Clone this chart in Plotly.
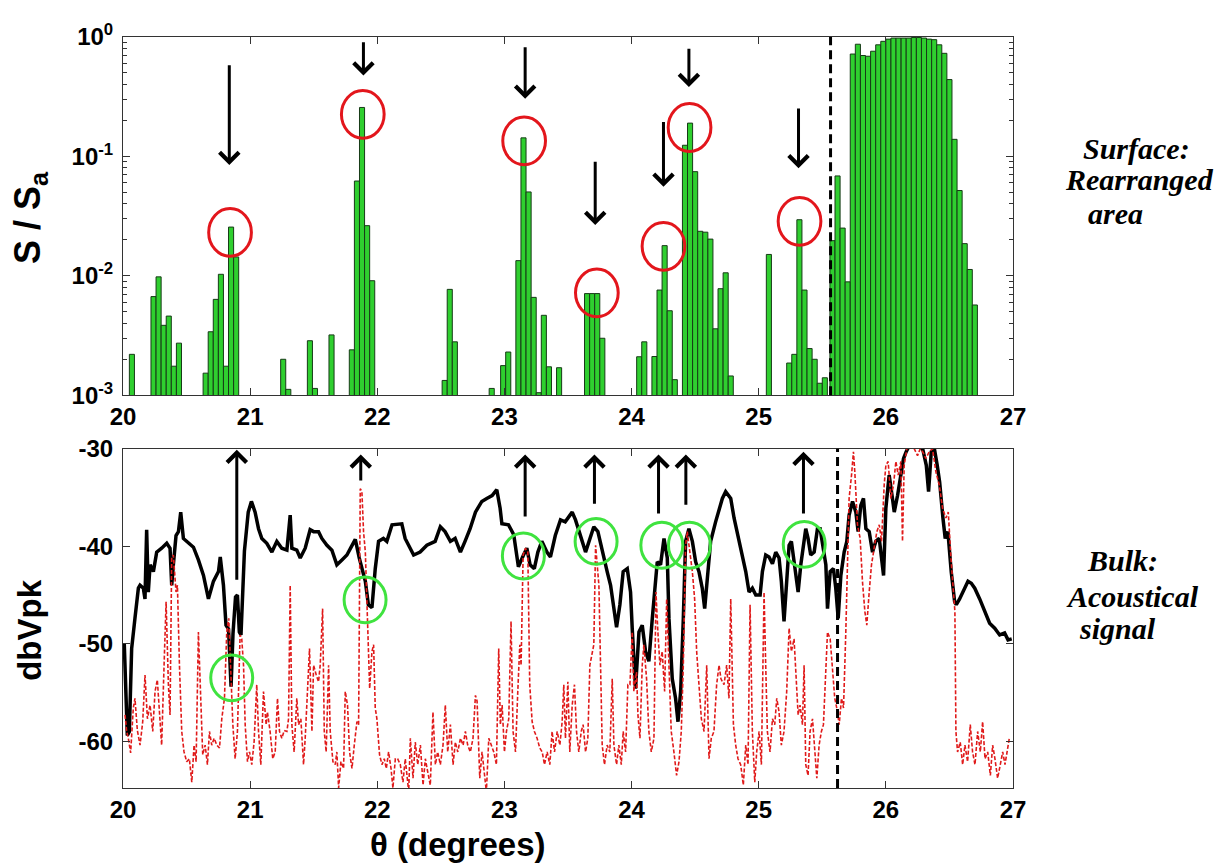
import math
import plotly.graph_objects as go

# ---------------- data: top panel (rearranged surface area, histogram) ----------------
bar_theta = [20.07, 20.24, 20.28, 20.32, 20.36, 20.40, 20.44,
             20.65, 20.69, 20.73, 20.77, 20.81, 20.85, 20.89,
             21.26, 21.30, 21.47, 21.51, 21.64,
             21.80, 21.84, 21.88, 21.92, 21.96,
             22.53, 22.57, 22.61, 22.90, 22.99, 23.03,
             23.11, 23.15, 23.19, 23.23, 23.27, 23.31, 23.35, 23.43,
             23.65, 23.69, 23.73, 23.77,
             24.06, 24.10, 24.18, 24.22, 24.26, 24.30, 24.34,
             24.42, 24.46, 24.50, 24.54, 24.58, 24.62, 24.66, 24.70, 24.74, 24.78,
             25.08, 25.24, 25.28, 25.32, 25.36, 25.40, 25.44, 25.48, 25.52,
             25.58, 25.62, 25.66, 25.70, 25.74, 25.78, 25.82, 25.86, 25.90, 25.94,
             25.98, 26.02, 26.06, 26.10, 26.14, 26.18, 26.22, 26.26, 26.30, 26.34,
             26.38, 26.42, 26.46, 26.50, 26.54, 26.58, 26.62, 26.66, 26.70]
bar_ratio = [0.0022, 0.0067, 0.0098, 0.00385, 0.0046, 0.00175, 0.00273,
             0.00153, 0.0034, 0.00635, 0.0103, 0.00175, 0.0256, 0.0144,
             0.0020, 0.00112, 0.00286, 0.00114, 0.0032,
             0.0024, 0.0622, 0.257, 0.0263, 0.0091,
             0.00133, 0.0077, 0.0028, 0.00114, 0.00177, 0.0023,
             0.0134, 0.143, 0.0504, 0.0066, 0.00105, 0.00467, 0.00173, 0.0017,
             0.0071, 0.0071, 0.0071, 0.0030,
             0.0021, 0.0028, 0.00211, 0.0076, 0.0179, 0.0051, 0.00135,
             0.124, 0.19, 0.0745, 0.0236, 0.0232, 0.0203, 0.0036, 0.0078, 0.0106, 0.00145,
             0.0151, 0.00186, 0.0022, 0.0295, 0.0076, 0.00246, 0.0020, 0.00126, 0.0014,
             0.0197, 0.0686, 0.0251, 0.0089, 0.72, 0.87, 0.70, 0.69, 0.76, 0.86,
             0.92, 0.96, 0.98, 0.98, 0.98, 0.98, 0.99, 0.99, 0.98, 0.96,
             0.95, 0.86, 0.73, 0.44, 0.139, 0.0518, 0.0186, 0.0113, 0.0057]

# ---------------- data: bottom panel (acoustical signal, dBVpk) ----------------
black_theta = [20.010, 20.034, 20.050, 20.068, 20.094, 20.121, 20.134, 20.160, 20.173, 20.186,
               20.199, 20.213, 20.239, 20.265, 20.304, 20.344, 20.370, 20.383, 20.396, 20.417,
               20.436, 20.454, 20.475, 20.514, 20.554, 20.593, 20.633, 20.672, 20.711, 20.751,
               20.765, 20.790, 20.810, 20.830, 20.850, 20.865, 20.885, 20.900, 20.915, 20.928,
               20.955, 20.985, 21.010, 21.039, 21.066, 21.092, 21.131, 21.171, 21.210, 21.249,
               21.289, 21.315, 21.328, 21.367, 21.394, 21.433, 21.472, 21.499, 21.538, 21.564,
               21.604, 21.643, 21.682, 21.722, 21.761, 21.790, 21.827, 21.858, 21.906, 21.930,
               21.958, 21.984, 22.010, 22.048, 22.075, 22.116, 22.193, 22.219, 22.286, 22.337,
               22.390, 22.455, 22.496, 22.533, 22.575, 22.612, 22.654, 22.690, 22.730, 22.772,
               22.822, 22.861, 22.903, 22.940, 22.966, 22.980, 23.032, 23.073, 23.100, 23.110,
               23.150, 23.176, 23.202, 23.235, 23.263, 23.294, 23.334, 23.362, 23.400, 23.441,
               23.478, 23.533, 23.559, 23.585, 23.612, 23.638, 23.664, 23.703, 23.735, 23.769,
               23.808, 23.835, 23.861, 23.882, 23.908, 23.934, 23.966, 23.992, 24.005, 24.031,
               24.058, 24.084, 24.110, 24.136, 24.163, 24.189, 24.202, 24.228, 24.255, 24.281,
               24.294, 24.320, 24.346, 24.365, 24.386, 24.407, 24.425, 24.451, 24.478, 24.504,
               24.530, 24.556, 24.575, 24.596, 24.622, 24.661, 24.688, 24.714, 24.740, 24.766,
               24.780, 24.806, 24.845, 24.871, 24.898, 24.924, 24.950, 24.977, 25.011, 25.029,
               25.055, 25.081, 25.108, 25.134, 25.160, 25.178, 25.199, 25.220, 25.239, 25.257,
               25.273, 25.291, 25.310, 25.331, 25.352, 25.370, 25.388, 25.409, 25.436, 25.462,
               25.483, 25.501, 25.528, 25.541, 25.562, 25.588, 25.606, 25.625, 25.646, 25.672,
               25.693, 25.711, 25.738, 25.764, 25.782, 25.803, 25.824, 25.843, 25.869, 25.895,
               25.921, 25.948, 25.982, 26.000, 26.013, 26.026, 26.052, 26.066, 26.092, 26.118,
               26.139, 26.160, 26.173, 26.199, 26.252, 26.291, 26.318, 26.336, 26.357, 26.383,
               26.404, 26.423, 26.449, 26.467, 26.488, 26.514, 26.541, 26.554, 26.580, 26.606,
               26.646, 26.672, 26.699, 26.738, 26.777, 26.816, 26.856, 26.895, 26.934, 26.961,
               26.990]
black_db = [-50.0, -59.4, -59.0, -50.5, -47.4, -44.3, -44.0, -44.3, -45.4, -38.3,
            -44.7, -41.9, -42.6, -40.6, -40.2, -39.7, -40.2, -44.0, -41.9, -38.9,
            -38.5, -36.5, -39.2, -39.7, -40.1, -41.4, -43.0, -45.4, -43.6, -42.6,
            -41.1, -44.0, -48.1, -48.5, -54.4, -49.0, -45.2, -45.0, -48.8, -49.1,
            -40.5, -36.5, -35.4, -36.5, -38.2, -39.2, -39.7, -40.6, -39.5, -40.2,
            -40.4, -36.8, -40.2, -40.4, -41.2, -40.2, -38.3, -38.5, -38.5, -39.2,
            -39.9, -40.4, -41.9, -41.4, -40.9, -40.2, -39.3, -41.2, -43.6, -46.0,
            -46.3, -42.3, -39.5, -39.2, -39.5, -37.8, -37.7, -39.2, -40.9, -40.6,
            -39.9, -39.5, -38.0, -38.5, -39.5, -39.2, -40.6, -39.5, -38.2, -36.5,
            -35.4, -35.1, -34.8, -34.2, -36.1, -37.7, -37.8, -38.8, -40.9, -42.1,
            -40.9, -40.2, -41.9, -42.3, -40.6, -39.5, -40.6, -41.1, -38.9, -37.3,
            -37.5, -36.5, -37.3, -38.5, -39.5, -40.6, -39.5, -38.0, -38.5, -40.6,
            -42.6, -44.0, -46.7, -48.3, -46.0, -42.6, -42.3, -44.7, -48.4, -54.6,
            -48.8, -48.1, -50.8, -51.8, -47.4, -44.0, -41.6, -41.9, -39.2, -41.2,
            -47.4, -53.6, -55.6, -58.0, -54.9, -47.4, -39.5, -38.2, -39.5, -41.6,
            -42.6, -44.3, -46.4, -43.3, -39.5, -37.5, -36.3, -35.1, -34.4, -34.9,
            -35.1, -37.1, -39.5, -40.9, -42.6, -44.7, -44.3, -45.0, -45.0, -42.6,
            -40.9, -41.1, -41.8, -40.6, -41.2, -43.6, -47.7, -43.6, -39.9, -39.5,
            -41.2, -43.3, -44.7, -41.9, -39.5, -38.2, -39.2, -40.9, -40.6, -38.2,
            -38.2, -39.9, -41.9, -46.4, -42.6, -42.3, -44.3, -47.4, -43.0, -40.6,
            -39.5, -36.8, -35.4, -36.5, -38.5, -35.8, -35.1, -38.2, -38.5, -40.6,
            -39.5, -39.2, -43.0, -36.1, -34.1, -32.7, -35.1, -36.5, -34.8, -32.7,
            -31.0, -30.3, -30.0, -29.3, -29.6, -30.1, -31.7, -34.4, -30.3, -30.1,
            -31.7, -33.4, -37.1, -39.2, -38.5, -42.6, -45.7, -46.0, -45.4, -44.7,
            -43.6, -43.8, -44.3, -45.4, -46.7, -47.9, -48.4, -49.1, -48.9, -49.6,
            -49.5]

red_theta = [20.016, 20.029, 20.042, 20.060, 20.081, 20.094, 20.113, 20.134, 20.155, 20.173,
             20.192, 20.213, 20.234, 20.252, 20.270, 20.291, 20.304, 20.323, 20.339, 20.357,
             20.370, 20.383, 20.396, 20.417, 20.428, 20.444, 20.462, 20.480, 20.501, 20.522,
             20.541, 20.559, 20.575, 20.593, 20.612, 20.627, 20.646, 20.664, 20.680, 20.698,
             20.717, 20.738, 20.759, 20.777, 20.798, 20.816, 20.832, 20.848, 20.864, 20.882,
             20.900, 20.921, 20.934, 20.948, 20.961, 20.979, 20.995, 21.013, 21.031, 21.052,
             21.066, 21.084, 21.105, 21.126, 21.136, 21.157, 21.178, 21.197, 21.215, 21.231,
             21.249, 21.268, 21.289, 21.302, 21.315, 21.328, 21.346, 21.367, 21.381, 21.399,
             21.420, 21.433, 21.451, 21.467, 21.486, 21.499, 21.520, 21.538, 21.551, 21.570,
             21.583, 21.598, 21.617, 21.630, 21.651, 21.669, 21.682, 21.696, 21.714, 21.735,
             21.748, 21.766, 21.782, 21.801, 21.819, 21.840, 21.853, 21.866, 21.879, 21.892,
             21.906, 21.924, 21.940, 21.958, 21.971, 21.984, 21.997, 22.018, 22.037, 22.055,
             22.071, 22.089, 22.108, 22.123, 22.142, 22.160, 22.181, 22.202, 22.220, 22.247,
             22.260,
             22.281, 22.299, 22.318, 22.339, 22.360, 22.378, 22.396, 22.417, 22.438, 22.457,
             22.475, 22.496, 22.517, 22.535, 22.554, 22.575, 22.596, 22.614, 22.633, 22.654,
             22.675, 22.693, 22.711, 22.732, 22.753, 22.772, 22.785, 22.806, 22.824, 22.843,
             22.858, 22.877, 22.895, 22.916, 22.937, 22.955, 22.968, 22.982, 23.000, 23.016,
             23.034, 23.052, 23.068, 23.087, 23.105, 23.121, 23.131, 23.147, 23.165, 23.184,
             23.199, 23.218, 23.236, 23.257, 23.278, 23.297, 23.315, 23.336, 23.357, 23.375,
             23.394, 23.415, 23.436, 23.454, 23.467, 23.480, 23.499, 23.514, 23.533, 23.551,
             23.567, 23.585, 23.604, 23.619, 23.638, 23.656, 23.672, 23.690, 23.703, 23.717,
             23.730, 23.743, 23.756, 23.769, 23.787, 23.808, 23.829, 23.848, 23.861, 23.882,
             23.900, 23.919, 23.934, 23.953, 23.971, 23.987, 24.005, 24.018, 24.039, 24.050,
             24.066, 24.084, 24.097, 24.118, 24.136, 24.155, 24.176, 24.192, 24.207, 24.223,
             24.241, 24.260, 24.276, 24.294, 24.312, 24.333, 24.354, 24.373, 24.391, 24.407,
             24.425, 24.438, 24.459, 24.478, 24.496, 24.512, 24.530, 24.549, 24.570, 24.591,
             24.609, 24.627, 24.648, 24.669, 24.688, 24.703, 24.727, 24.748, 24.766,
             24.780, 24.801, 24.819, 24.837, 24.858, 24.879, 24.898, 24.916, 24.932, 24.950,
             24.969, 24.984, 25.003, 25.021, 25.042, 25.055, 25.068, 25.089, 25.108, 25.126,
             25.142, 25.160, 25.178, 25.199, 25.220, 25.239, 25.257, 25.278, 25.294, 25.310,
             25.325, 25.344, 25.357, 25.370, 25.388, 25.404, 25.423, 25.441, 25.457, 25.475,
             25.493, 25.509, 25.528, 25.541, 25.562, 25.580, 25.598, 25.614, 25.633, 25.651,
             25.667, 25.685, 25.698, 25.711, 25.730, 25.745, 25.756, 25.777, 25.798, 25.816,
             25.835, 25.850, 25.869, 25.887, 25.908, 25.929, 25.948, 25.966, 25.987, 26.000,
             26.018, 26.039, 26.060, 26.079, 26.097, 26.118, 26.131, 26.144, 26.165, 26.197,
             26.223, 26.249, 26.270, 26.289, 26.315, 26.341, 26.367, 26.394, 26.420, 26.446,
             26.472, 26.491, 26.512, 26.533, 26.543, 26.551, 26.564, 26.585, 26.604, 26.622,
             26.643, 26.664, 26.682, 26.701, 26.722, 26.743, 26.761, 26.780, 26.801, 26.822,
             26.840, 26.858, 26.879, 26.900, 26.919, 26.937, 26.953, 26.971]
red_db = [-57.3, -59.0, -59.7, -61.2, -56.6, -55.6, -58.9, -60.4, -58.0, -53.2,
          -57.7, -56.3, -59.0, -54.9, -53.7, -58.3, -60.4, -52.2, -45.7, -54.2,
          -57.3, -41.2, -40.9, -44.7, -44.0, -52.2, -59.0, -61.1, -62.1, -61.8,
          -64.2, -60.4, -62.1, -48.8, -55.6, -61.4, -60.4, -62.4, -59.0, -60.4,
          -59.7, -60.4, -60.7, -57.7, -55.6, -48.8, -47.4, -53.9, -58.3, -61.8,
          -59.0, -49.1, -49.5, -52.2, -58.3, -62.1, -61.1, -62.4, -60.1, -54.2,
          -59.0, -62.4, -54.9, -58.3, -57.0, -59.0, -61.8, -61.1, -55.6, -59.0,
          -59.7, -58.9, -59.0, -57.7, -44.0, -58.3, -61.1, -55.6, -58.3, -57.7,
          -62.4, -59.7, -53.9, -50.5, -59.0, -52.2, -53.2, -53.9, -52.2, -46.4,
          -59.0, -61.1, -52.2, -59.0, -62.1, -62.4, -61.1, -64.8, -62.1, -62.8,
          -54.9, -56.3, -61.1, -62.8, -60.4, -58.0, -58.3, -34.1, -34.4, -38.5,
          -40.6, -49.5, -54.6, -50.8, -50.1, -56.6, -57.7, -61.4, -62.4, -61.8,
          -62.8, -61.1, -62.8, -64.8, -61.8, -61.8, -62.4, -64.2, -61.8, -65.2,
          -59.7,
          -63.8, -60.1, -62.4, -60.4, -64.5, -61.8, -63.1, -64.5, -57.0, -62.4,
          -61.1, -62.4, -60.4, -56.3, -61.1, -58.3, -62.4, -60.1, -61.1, -59.7,
          -60.4, -59.0, -60.4, -61.1, -59.7, -55.3, -55.9, -63.8, -61.1, -63.8,
          -65.2, -59.7, -60.4, -61.1, -62.4, -50.5, -58.3, -56.3, -61.1, -59.0,
          -57.7, -47.7, -59.0, -61.1, -54.9, -50.1, -52.2, -40.9, -40.2, -40.6,
          -54.2, -58.0, -59.0, -59.7, -60.7, -61.1, -62.4, -61.1, -62.4, -59.0,
          -61.1, -59.0, -60.4, -58.0, -54.2, -59.7, -53.9, -61.1, -56.3, -54.2,
          -59.0, -61.1, -59.0, -58.3, -61.1, -59.7, -52.2, -50.8, -50.1, -39.9,
          -41.9, -44.0, -52.2, -60.4, -62.4, -60.4, -61.1, -53.6, -60.4, -62.4,
          -60.4, -62.4, -59.0, -61.1, -54.2, -54.2, -48.8, -54.9, -52.9, -57.3,
          -59.7, -52.2, -50.1, -53.6, -59.0, -61.1, -59.7, -44.7, -48.8, -52.2,
          -50.8, -54.9, -45.4, -52.2, -59.0, -61.1, -63.5, -62.1, -59.0, -52.2,
          -39.9, -38.5, -40.6, -42.6, -45.4, -50.8, -54.2, -57.7, -59.0, -52.2,
          -61.8, -59.7, -59.0, -54.2, -52.2, -53.6, -54.2, -52.2, -55.6,
          -45.4, -58.3, -60.4, -61.8, -62.4, -64.5, -60.4, -62.4, -46.0, -59.0,
          -64.2, -61.1, -59.0, -62.4, -44.7, -52.2, -59.0, -61.1, -57.7, -58.3,
          -55.6, -57.0, -60.4, -59.0, -54.9, -48.4, -50.8, -49.5, -52.9, -57.3,
          -56.3, -58.3, -52.2, -62.4, -63.5, -59.0, -57.7, -61.1, -63.8, -60.4,
          -59.0, -58.3, -52.9, -48.8, -49.5, -52.2, -55.6, -56.6, -58.3, -55.6,
          -56.6, -48.8, -41.9, -35.1, -32.7, -30.3, -32.4, -37.8, -39.2, -43.6,
          -46.7, -48.1, -44.7, -41.9, -40.2, -38.5, -37.8, -39.5, -33.7, -31.7,
          -31.3, -35.1, -33.7, -31.3, -32.7, -31.3, -39.5, -31.7, -30.0, -29.6,
          -30.0, -30.7, -30.0, -30.3, -31.0, -30.3, -30.0, -32.4, -33.7, -36.1,
          -37.1, -36.5, -41.2, -45.4, -46.7, -59.0, -61.1, -60.1, -62.4, -60.4,
          -62.1, -58.3, -61.1, -62.4, -59.0, -61.1, -58.0, -61.8, -61.1, -63.5,
          -60.4, -61.8, -63.8, -62.4, -61.1, -62.4, -61.1, -59.7]

# ---------------- ticks ----------------
x_ticks = [20, 21, 22, 23, 24, 25, 26, 27]
top_y_ticks = [0.001, 0.01, 0.1, 1]
top_y_ticktext = ["10<sup>-3</sup>", "10<sup>-2</sup>", "10<sup>-1</sup>", "10<sup>0</sup>"]
bot_y_ticks = [-60, -50, -40, -30]
bot_y_ticktext = ["-60", "-50", "-40", "-30"]

# ---------------- annotation marks ----------------
top_arrow_theta = [20.836, 21.891, 23.163, 23.714, 24.251, 24.451, 25.313]
top_arrow_from = [0.596, 0.931, 0.845, 0.093, 0.200, 0.820, 0.259]
top_arrow_to = [0.0847, 0.475, 0.304, 0.0267, 0.0558, 0.381, 0.0794]
red_circle_theta = [20.842, 21.886, 23.155, 23.727, 24.251, 24.456, 25.321]
red_circle_ratio = [0.0231, 0.225, 0.135, 0.00721, 0.01766, 0.1746, 0.0286]

bot_arrow_theta = [20.895, 21.870, 23.163, 23.708, 24.212, 24.427, 25.352]
bot_arrow_from = [-43.6, -33.4, -37.1, -35.8, -36.8, -35.9, -36.8]
bot_arrow_to = [-30.1, -30.6, -30.6, -30.6, -30.6, -30.6, -30.3]
green_circle_theta = [20.855, 21.904, 23.149, 23.721, 24.238, 24.455, 25.358]
green_circle_db = [-53.5, -45.5, -41.0, -39.5, -39.9, -39.9, -39.8]

top_boundary_theta = 25.565
bot_boundary_theta = 25.62

# ---------------- figure ----------------
# the page body adds an 8 px offset, so margins are reduced by 8 px on the left/top
ML, MT, PW, PH = 115, 25, 890, 755

fig = go.Figure()
fig.add_trace(go.Bar(x=bar_theta, y=bar_ratio, width=0.04,
                     marker=dict(color="#2fcf2f", line=dict(color="#173a17", width=1)),
                     xaxis="x", yaxis="y", hoverinfo="skip"))
fig.add_trace(go.Scatter(x=black_theta, y=black_db, mode="lines",
                         line=dict(color="black", width=3.5),
                         xaxis="x2", yaxis="y2"))
fig.add_trace(go.Scatter(x=red_theta, y=red_db, mode="lines",
                         line=dict(color="#e01a1a", width=1.6, dash="4px,2px"),
                         xaxis="x2", yaxis="y2"))

tickfont = dict(family="Liberation Sans", size=24, color="black", weight="bold")
axis_common = dict(ticks="inside", ticklen=7, tickwidth=1, tickcolor="#333",
                   mirror="ticks", showline=True, linecolor="#333", linewidth=1,
                   showgrid=False, zeroline=False, tickfont=tickfont)

fig.update_layout(
    width=1225, height=864,
    margin=dict(l=ML, r=1225 - ML - PW, t=MT, b=864 - MT - PH),
    paper_bgcolor="white", plot_bgcolor="white",
    showlegend=False,
    xaxis=dict(domain=[0, 1], anchor="y", range=[20, 27], tickvals=x_ticks,
               ticktext=[str(t) for t in x_ticks], **axis_common),
    yaxis=dict(domain=[0.523, 1], anchor="x", type="log", range=[-3, 0],
               tickvals=top_y_ticks, ticktext=top_y_ticktext,
               minor=dict(ticks="inside", ticklen=4, tickcolor="#333", dtick="D1"),
               ticklabelstandoff=4, **axis_common),
    xaxis2=dict(domain=[0, 1], anchor="y2", range=[20, 27], tickvals=x_ticks,
                ticktext=[str(t) for t in x_ticks], **axis_common),
    yaxis2=dict(domain=[0, 0.4517], anchor="x2", range=[-64.8, -30],
                tickvals=bot_y_ticks, ticktext=bot_y_ticktext,
                ticklabelstandoff=4, **axis_common),
)

# boundary dashed lines
fig.add_shape(type="line", xref="x", yref="y domain", x0=top_boundary_theta, x1=top_boundary_theta,
              y0=0, y1=1, line=dict(color="black", width=3, dash="9px,5px"))
fig.add_shape(type="line", xref="x2", yref="y2 domain", x0=bot_boundary_theta, x1=bot_boundary_theta,
              y0=0, y1=1, line=dict(color="black", width=3, dash="9px,5px"))

# top arrows (down) and red circles
for xa, yf, yt in zip(top_arrow_theta, top_arrow_from, top_arrow_to):
    fig.add_annotation(x=xa, y=math.log10(yt), ax=xa, ay=math.log10(yf),
                       xref="x", yref="y", axref="x", ayref="y", text="",
                       showarrow=True, arrowhead=4, arrowsize=1.25, arrowwidth=3,
                       arrowcolor="black", standoff=0, startstandoff=0)
for xc, yc in zip(red_circle_theta, red_circle_ratio):
    lc = math.log10(yc)
    fig.add_shape(type="circle", xref="x", yref="y",
                  x0=xc - 0.168, x1=xc + 0.168, y0=10 ** (lc - 0.2), y1=10 ** (lc + 0.2),
                  line=dict(color="#e3161c", width=3))

# bottom arrows (up) and green circles
for xa, yf, yt in zip(bot_arrow_theta, bot_arrow_from, bot_arrow_to):
    fig.add_annotation(x=xa, y=yt, ax=xa, ay=yf,
                       xref="x2", yref="y2", axref="x2", ayref="y2", text="",
                       showarrow=True, arrowhead=4, arrowsize=1.25, arrowwidth=3,
                       arrowcolor="black", standoff=0, startstandoff=0)
for xc, yc in zip(green_circle_theta, green_circle_db):
    fig.add_shape(type="circle", xref="x2", yref="y2",
                  x0=xc - 0.165, x1=xc + 0.165, y0=yc - 2.35, y1=yc + 2.35,
                  line=dict(color="#3fe33f", width=3))


def px_to_paper(px, py):
    # reference-pixel position -> paper coordinates of the plotting area
    return (px - 123) / PW, (788 - py) / PH


# axis titles
x_, y_ = px_to_paper(30, 215)
fig.add_annotation(text="S&nbsp;/&nbsp;S<sub>a</sub>", xref="paper", yref="paper", x=x_, y=y_,
                   textangle=-90, showarrow=False,
                   font=dict(family="Liberation Sans", size=36, color="black", weight="bold"),
                   xanchor="center", yanchor="middle")
x_, y_ = px_to_paper(30, 630)
fig.add_annotation(text="dbVpk", xref="paper", yref="paper", x=x_, y=y_,
                   textangle=-90, showarrow=False,
                   font=dict(family="Liberation Sans", size=33, color="black", weight="bold"),
                   xanchor="center", yanchor="middle")
x_, y_ = px_to_paper(458, 845)
fig.add_annotation(text="θ (degrees)", xref="paper", yref="paper", x=x_, y=y_,
                   showarrow=False,
                   font=dict(family="Liberation Sans", size=33, color="black", weight="bold"),
                   xanchor="center", yanchor="middle")

# side labels
side_font = dict(family="Liberation Serif", size=30, color="black", weight="bold", style="italic")
side_labels = [("Surface:", 1136, 145), ("Rearranged", 1139, 176), ("area", 1115, 210),
               ("Bulk:", 1122, 559), ("Acoustical", 1132, 595), ("signal", 1117, 628)]
for txt, px, py in side_labels:
    x_, y_ = px_to_paper(px, py)
    fig.add_annotation(text=txt, xref="paper", yref="paper", x=x_, y=y_,
                       showarrow=False, font=side_font,
                       xanchor="center", yanchor="middle")

fig.write_html("out.html")
